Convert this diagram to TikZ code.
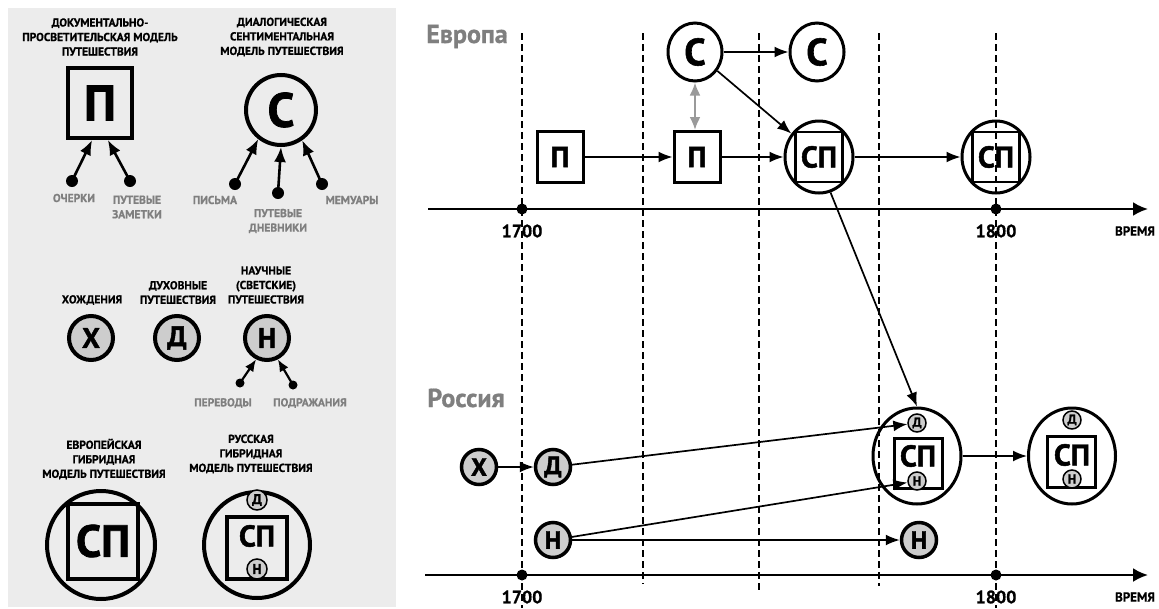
\documentclass[tikz,border=0pt]{standalone}
\usepackage{fontspec}
\setmainfont{PT Sans}
\newfontfamily\hv{PT Sans}[BoldFeatures={FakeBold=1.6}]
\newfontfamily\lb{PT Sans}[BoldFeatures={FakeBold=0.7}]
\usetikzlibrary{arrows.meta,shapes.geometric}
\definecolor{panelgrey}{HTML}{ECECEC}
\definecolor{labgrey}{HTML}{7F7F7F}
\definecolor{fillgrey}{HTML}{CDCDCD}
\definecolor{arrgrey}{HTML}{9A9A9A}
\begin{document}
\begin{tikzpicture}[x=1pt,y=-1pt,
  lab/.style={font=\lb\fontsize{11.5}{14.5}\selectfont\bfseries, align=center, inner sep=0pt},
  glab/.style={lab, text=labgrey},
  yr/.style={font=\lb\fontsize{18}{18}\selectfont\bfseries, inner sep=0pt},
  vr/.style={font=\lb\fontsize{13}{13}\selectfont\bfseries, inner sep=0pt},
  reg/.style={font=\lb\fontsize{26}{26}\selectfont\bfseries, text=labgrey, inner sep=0pt, anchor=base},
  larr/.style={line width=2.6pt, -{Latex[length=15pt,width=12pt]}},
  arr/.style={line width=1.7pt, -{Latex[length=14pt,width=11pt]}},
  garr/.style={line width=2.2pt, color=arrgrey, {Latex[length=13pt,width=11pt]}-{Latex[length=13pt,width=11pt]}},
  axis/.style={line width=2.4pt, -{Latex[length=15pt,width=14pt]}},
  dashline/.style={line width=1.3pt, dash pattern=on 7pt off 4pt},
  lsq/.style={draw, line width=4pt, minimum width=64pt, minimum height=70pt, inner sep=0pt, font=\hv\fontsize{50}{50}\selectfont\bfseries},
  lcirc/.style={draw, circle, line width=4pt, minimum size=70pt, inner sep=0pt, font=\hv\fontsize{48}{48}\selectfont\bfseries},
  lsm/.style={draw, circle, fill=fillgrey, line width=4pt, minimum size=44pt, inner sep=0pt, font=\hv\fontsize{28}{28}\selectfont\bfseries},
  rsm/.style={draw, circle, fill=fillgrey, line width=3.5pt, minimum size=35pt, inner sep=0pt, font=\hv\fontsize{25}{25}\selectfont\bfseries},
  tiny/.style={draw, circle, fill=fillgrey, line width=1.5pt, minimum size=18pt, inner sep=0pt, font=\hv\fontsize{13}{13}\selectfont\bfseries},
  esq/.style={draw, line width=3pt, minimum width=46pt, minimum height=51pt, inner sep=0pt, font=\hv\fontsize{29}{29}\selectfont\bfseries},
  ecirc/.style={draw, ellipse, line width=3pt, minimum width=54pt, minimum height=58pt, inner sep=0pt, font=\hv\fontsize{38}{38}\selectfont\bfseries},
  spring/.style={draw, ellipse, line width=3pt, minimum width=68pt, minimum height=72pt, inner sep=0pt},
  spbox/.style={draw, line width=2.5pt, inner sep=0pt},
  sptext/.style={font=\hv\fontsize{30}{30}\selectfont\bfseries, inner sep=0pt},
  dot/.style={fill=black}
]
\useasboundingbox (0,0) rectangle (1159,608);
\fill[white] (0,0) rectangle (1159,608);
% ---------------- left panel ----------------
\fill[panelgrey] (8,8) rectangle (396,607);

\node[lab] (t1) at (100,37) {ДОКУМЕНТАЛЬНО-\\ПРОСВЕТИТЕЛЬСКАЯ МОДЕЛЬ\\ПУТЕШЕСТВИЯ};
\node[lab] (t2) at (282,37) {ДИАЛОГИЧЕСКАЯ\\СЕНТИМЕНТАЛЬНАЯ\\МОДЕЛЬ ПУТЕШЕСТВИЯ};
\node[lsq] (lP) at (100,103) {П};
\node[lcirc] (lC) at (281,110) {С};

\coordinate (o1) at (72,181);
\coordinate (o2) at (130,181);
\coordinate (o3) at (235,184);
\coordinate (o4) at (278,193);
\coordinate (o5) at (322,184);
\foreach \c in {o1,o2,o3,o4,o5} \fill[dot] (\c) circle (6);
\draw[larr] (o1) -- (lP.258);
\draw[larr] (o2) -- (lP.282);
\draw[larr] (o3) -- (lC.232);
\draw[larr] (o4) -- (lC.270);
\draw[larr] (o5) -- (lC.305);

\node[glab] (och) at (74,198) {ОЧЕРКИ};
\node[glab] (ptz) at (137,207) {ПУТЕВЫЕ\\ЗАМЕТКИ};
\node[glab] (pis) at (215,200) {ПИСЬМА};
\node[glab] (ptd) at (278,221) {ПУТЕВЫЕ\\ДНЕВНИКИ};
\node[glab] (mem) at (352,200) {МЕМУАРЫ};

\node[lab] (hozh) at (92,300) {ХОЖДЕНИЯ};
\node[lab] (duh) at (178,292.5) {ДУХОВНЫЕ\\ПУТЕШЕСТВИЯ};
\node[lab] (nauch) at (266,285) {НАУЧНЫЕ\\(СВЕТСКИЕ)\\ПУТЕШЕСТВИЯ};
\node[lsm] (lX) at (91,338) {Х};
\node[lsm] (lD) at (177,338) {Д};
\node[lsm] (lN) at (267,338) {Н};
\coordinate (o6) at (240,383);
\coordinate (o7) at (293,385);
\fill[dot] (o6) circle (4.5);
\fill[dot] (o7) circle (4.5);
\draw[line width=2.2pt, -{Latex[length=12pt,width=10pt]}] (o6) -- (lN.243);
\draw[line width=2.2pt, -{Latex[length=12pt,width=10pt]}] (o7) -- (lN.297);
\node[glab] (per) at (223,403) {ПЕРЕВОДЫ};
\node[glab] (podr) at (310,403) {ПОДРАЖАНИЯ};

\node[lab] (evr) at (104,459) {ЕВРОПЕЙСКАЯ\\ГИБРИДНАЯ\\МОДЕЛЬ ПУТЕШЕСТВИЯ};
\node[lab] (rus) at (251,454) {РУССКАЯ\\ГИБРИДНАЯ\\МОДЕЛЬ ПУТЕШЕСТВИЯ};
\node[draw, circle, line width=4pt, minimum size=108pt, inner sep=0pt] (lEc) at (101,545) {};
\node[draw, line width=4pt, minimum width=70pt, minimum height=75pt, inner sep=0pt,
      font=\hv\fontsize{45}{45}\selectfont\bfseries] (lEs) at (103,541) {СП};
\node[draw, circle, line width=4pt, minimum size=106pt, inner sep=0pt] (lRc) at (257,545) {};
\node[draw, line width=3.5pt, minimum width=60pt, minimum height=62pt, inner sep=0pt] (lRs) at (257,548) {};
\node[sptext] (lRt) at (257,536) {СП};
\node[tiny, minimum size=20pt, font=\hv\fontsize{14}{14}\selectfont\bfseries] (lRd) at (257,500) {Д};
\node[tiny, minimum size=20pt, font=\hv\fontsize{14}{14}\selectfont\bfseries] (lRn) at (257,569) {Н};

% ---------------- right panel ----------------
\foreach \x/\b [count=\i] in {522/608, 643/584, 759/590, 879/586, 996/608} {
  \coordinate (v\i t) at (\x,33);
  \coordinate (v\i b) at (\x,\b);
  \draw[dashline] (v\i t) -- (v\i b);
}

\node[reg] (eur) at (467,43) {Европа};
\node[reg] (rus2) at (466,407) {Россия};

\coordinate (a1s) at (428,209);
\coordinate (a1e) at (1148,209);
\coordinate (a2s) at (425,575);
\coordinate (a2e) at (1148,575);
\draw[axis] (a1s) -- (a1e);
\draw[axis] (a2s) -- (a2e);
\coordinate (d1) at (522,209);
\coordinate (d2) at (996,209);
\coordinate (d3) at (522,575);
\coordinate (d4) at (996,575);
\foreach \c in {d1,d2,d3,d4} \fill[dot] (\c) circle (5.5);
\node[yr] (y1) at (522,231) {1700};
\node[yr] (y2) at (996,231) {1800};
\node[yr] (y3) at (522,597) {1700};
\node[yr] (y4) at (996,597) {1800};
\node[vr] (vr1) at (1135,231) {ВРЕМЯ};
\node[vr] (vr2) at (1135,597) {ВРЕМЯ};

% Europe
\node[esq] (P1) at (560,157) {П};
\node[esq] (P2) at (697,157) {П};
\node[ecirc] (C1) at (695,52) {С};
\node[ecirc] (C2) at (817,52) {С};
\node[spring] (S1) at (819,157) {};
\node[spbox, minimum width=47pt, minimum height=50pt] (S1b) at (819,157) {};
\node[sptext] (S1t) at (819,157) {СП};
\node[spring] (S2) at (996,157) {};
\node[spbox, minimum width=47pt, minimum height=50pt] (S2b) at (996,157) {};
\node[sptext] (S2t) at (996,157) {СП};

\draw[arr] (P1.east) -- (P2.west);
\draw[arr] (P2.east) -- (S1.west);
\draw[arr] (C1.east) -- (C2.west);
\draw[arr] (C1) -- (S1);
\draw[garr] (C1.south) -- (C1.south |- P2.north);
\draw[arr] (S1.east) -- (S2.west);

% Russia
\node[rsm] (X) at (479,467) {Х};
\node[rsm] (D) at (553,467) {Д};
\node[rsm] (N) at (553,540) {Н};
\node[rsm] (N2) at (919,540) {Н};

\node[draw, ellipse, line width=3pt, minimum width=88pt, minimum height=96pt, inner sep=0pt] (R1) at (917,456) {};
\node[spbox, line width=3pt, minimum width=48pt, minimum height=50pt] (R1b) at (918,463) {};
\node[sptext] (R1t) at (918,456) {СП};
\node[tiny] (R1d) at (917,423) {Д};
\node[tiny] (R1n) at (917,481) {Н};

\node[draw, ellipse, line width=3pt, minimum width=87pt, minimum height=96pt, inner sep=0pt] (R2) at (1072,456) {};
\node[spbox, line width=3pt, minimum width=48pt, minimum height=51pt] (R2b) at (1071,462) {};
\node[sptext] (R2t) at (1072,455) {СП};
\node[tiny] (R2d) at (1072,420) {Д};
\node[tiny] (R2n) at (1072,479) {Н};

\draw[arr] (X.east) -- (D.west);
\draw[arr] (D) -- (R1d);
\draw[arr] (N) -- (R1n);
\draw[arr] (N) -- (N2);
\draw[arr] (R1.east) -- (R2.west);
\draw[arr] (S1.-72) -- (R1.north);
\end{tikzpicture}
\end{document}
